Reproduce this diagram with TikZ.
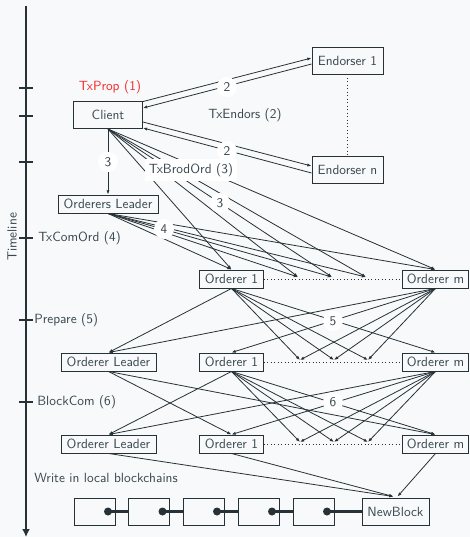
\documentclass[tikz,border=0pt]{standalone}
\usetikzlibrary{arrows.meta,calc}
\definecolor{bg}{RGB}{248,249,250}
\definecolor{ink}{RGB}{38,50,56}
\definecolor{txt}{RGB}{55,71,79}
\definecolor{redl}{RGB}{244,40,40}
\begin{document}
\begin{tikzpicture}[x=0.75pt,y=-0.75pt, font=\sffamily,
  every node/.style={text=txt},
  box/.style={draw=ink, line width=0.7pt, fill=bg, inner sep=0pt, minimum height=20.25pt},
  sbox/.style={box, minimum height=13.5pt},
  num/.style={circle, fill=white, inner sep=0pt, minimum size=15pt},
  arr/.style={draw=ink, line width=0.6pt, -{Latex[length=3.2pt,width=2.4pt]}},
  dotline/.style={draw=ink, line width=0.6pt, dotted},
  dotn/.style={circle, fill=ink, inner sep=0pt, minimum size=6pt},
  chain/.style={draw=ink, line width=1.8pt},
  lab/.style={anchor=west, inner sep=0pt}]
\fill[bg] (0,0) rectangle (470,537);
\useasboundingbox (0,0) rectangle (470,537);

% timeline
\coordinate (t0) at (26,6);
\coordinate (t1) at (26,537);
\draw[draw=ink, line width=1.7pt, -{Latex[length=6pt,width=6pt]}] (t0) -- (t1);
\foreach \y in {88,116,162,238,320,402}
  \draw[draw=ink, line width=2.2pt] (19,\y) -- (33,\y);
\node[rotate=90] (tl) at (12,237) {Timeline};

% nodes
\node[box, minimum width=51.75pt] (c) at (108,115) {Client};
\node[box, minimum width=53.25pt] (e1) at (347.5,60.5) {Endorser 1};
\node[box, minimum width=53.25pt] (en) at (347.5,170) {Endorser n};
\node[sbox, minimum width=75pt] (ol) at (108,204) {Orderers Leader};
\node[sbox, minimum width=48pt] (o11) at (231.5,279) {Orderer 1};
\node[sbox, minimum width=49.5pt] (o1m) at (435.5,279) {Orderer m};
\node[sbox, minimum width=71.25pt] (ol2) at (108.5,362) {Orderer Leader};
\node[sbox, minimum width=48pt] (o21) at (231.5,362) {Orderer 1};
\node[sbox, minimum width=49.5pt] (o2m) at (435.5,362) {Orderer m};
\node[sbox, minimum width=71.25pt] (ol3) at (108.5,444) {Orderer Leader};
\node[sbox, minimum width=48pt] (o31) at (231.5,444) {Orderer 1};
\node[sbox, minimum width=49.5pt] (o3m) at (435.5,444) {Orderer m};

\coordinate (d11) at (298,277);
\coordinate (d12) at (332,277);
\coordinate (d13) at (366,277);
\coordinate (d21) at (300,360);
\coordinate (d22) at (334,360);
\coordinate (d23) at (368,360);
\coordinate (d31) at (300,442);
\coordinate (d32) at (334,442);
\coordinate (d33) at (368,442);

% blockchain
\node[box, minimum width=30.75pt] (b1) at (94.5,511.5) {};
\node[box, minimum width=30.75pt] (b2) at (149,511.5) {};
\node[box, minimum width=30.75pt] (b3) at (203.5,511.5) {};
\node[box, minimum width=30.75pt] (b4) at (258.5,511.5) {};
\node[box, minimum width=30.75pt] (b5) at (313.5,511.5) {};
\node[box, minimum width=50.25pt] (nb) at (395.5,511.5) {NewBlock};
\node[dotn] (p1) at ($(b1.center)+(13.5,0)$) {};
\node[dotn] (p2) at ($(b2.center)+(13.5,0)$) {};
\node[dotn] (p3) at ($(b3.center)+(13.5,0)$) {};
\node[dotn] (p4) at ($(b4.center)+(13.5,0)$) {};
\node[dotn] (p5) at ($(b5.center)+(13.5,0)$) {};
\draw[chain] (p1.center) -- (b2.west);
\draw[chain] (p2.center) -- (b3.west);
\draw[chain] (p3.center) -- (b4.west);
\draw[chain] (p4.center) -- (b5.west);
\draw[chain] (p5.center) -- (nb.west);

% endorsement
\draw[arr] ($(c.north east)+(0,0.5)$) -- ($(e1.west)+(0,-2.5)$);
\draw[arr] ($(e1.west)+(0,3.5)$) -- ($(c.east)+(0,-7)$);
\draw[arr] ($(c.east)+(0,7)$) -- ($(en.west)+(0,-4)$);
\draw[arr] ($(en.west)+(0,3)$) -- ($(c.south east)+(0,-1)$);
\draw[dotline] (e1.south) -- (en.north);

% broadcast
\draw[arr] (c.south) -- (ol.north);
\foreach \t in {o11.north,d11,d12,d13,o1m.north}
  \draw[arr] (c.south) -- (\t);
\foreach \t in {o11.north,d11,d12,d13,o1m.north}
  \draw[arr] (ol.south) -- (\t);
\draw[dotline] (o11.east) -- (o1m.west);

% prepare
\foreach \t in {ol2.north,d21,d22,d23,o2m.north}
  \draw[arr] (o11.south) -- (\t);
\foreach \t in {ol2.north,o21.north,d21,d22,d23}
  \draw[arr] (o1m.south) -- (\t);
\draw[dotline] (o21.east) -- (o2m.west);

% commit
\foreach \t in {o31.north,o3m.north}
  \draw[arr] (ol2.south) -- (\t);
\foreach \t in {ol3.north,d31,d32,d33,o3m.north}
  \draw[arr] (o21.south) -- (\t);
\foreach \t in {ol3.north,o31.north,d31,d32,d33}
  \draw[arr] (o2m.south) -- (\t);
\draw[dotline] (o31.east) -- (o3m.west);

% write
\draw[arr] (ol3.south) -- ($(nb.north)+(-2,-1)$);
\draw[arr] (o31.south) -- ($(nb.north)+(-2,-1)$);
\draw[arr] (o3m.south) -- ($(nb.north)+(2,-1)$);

% labels
\node[text=redl] (l1) at (110,87) {TxProp (1)};
\node (l2) at (245,115) {TxEndors (2)};
\node[fill=white, inner sep=3pt] (l3) at (191,170) {TxBrodOrd (3)};
\node[lab] (l4) at (38,238) {TxComOrd (4)};
\node[lab] (l5) at (34,320) {Prepare (5)};
\node[lab] (l6) at (37,402) {BlockCom (6)};
\node[lab] (l7) at (34,478) {Write in local blockchains};

\node[num] (n2a) at (227,87) {2};
\node[num] (n2b) at (227,151) {2};
\node[num] (n3a) at (108,162) {3};
\node[num] (n3b) at (220,203) {3};
\node[num] (n4) at (164,229) {4};
\node[num] (n5) at (333,321) {5};
\node[num] (n6) at (333,402) {6};
\end{tikzpicture}
\end{document}
